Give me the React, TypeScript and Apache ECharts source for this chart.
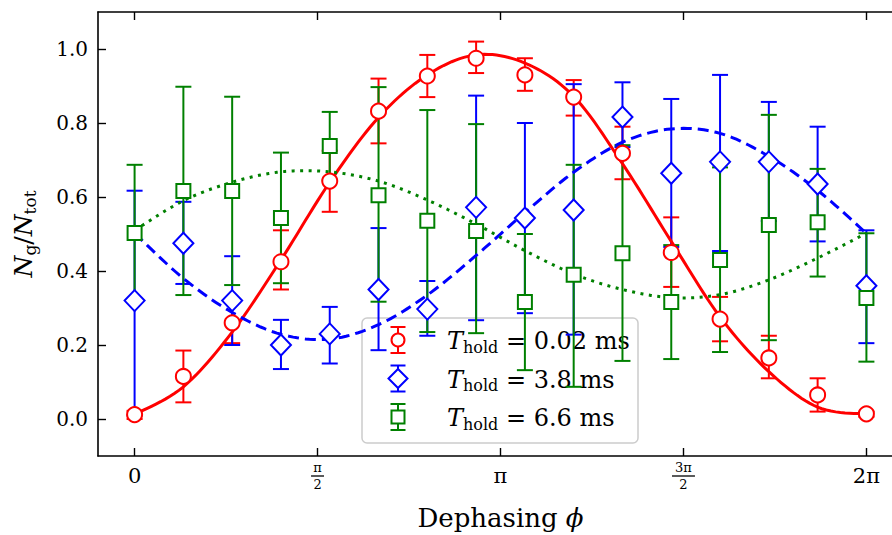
import React, { useEffect, useRef } from "react";
import * as echarts from "echarts";

// Dephasing positions: 16 equally spaced points from 0 to 2π
const N = 16;
const phi = Array.from({ length: N }, (_, i) => (i * 2 * Math.PI) / (N - 1));

// T_hold = 0.02 ms (red circles)
const redY = [0.012, 0.115, 0.26, 0.425, 0.643, 0.832, 0.927, 0.975, 0.93, 0.87, 0.718, 0.45, 0.27, 0.165, 0.065, 0.014];
const redLo = [0.0, 0.045, 0.205, 0.35, 0.56, 0.745, 0.87, 0.935, 0.887, 0.82, 0.648, 0.357, 0.21, 0.11, 0.02, 0.006];
const redHi = [0.022, 0.185, 0.315, 0.51, 0.725, 0.92, 0.984, 1.02, 0.975, 0.916, 0.79, 0.545, 0.33, 0.225, 0.11, 0.02];
const redFit = [0.012, 0.087, 0.235, 0.43, 0.64, 0.815, 0.93, 0.984, 0.962, 0.872, 0.69, 0.48, 0.276, 0.128, 0.032, 0.013];

// T_hold = 3.8 ms (blue diamonds)
const blueY = [0.32, 0.475, 0.32, 0.2, 0.23, 0.35, 0.297, 0.572, 0.543, 0.565, 0.816, 0.664, 0.695, 0.695, 0.635, 0.36];
const blueLo = [0.01, 0.365, 0.2, 0.135, 0.15, 0.186, 0.225, 0.267, 0.286, 0.228, 0.735, 0.465, 0.454, 0.535, 0.48, 0.205];
const blueHi = [0.617, 0.587, 0.44, 0.268, 0.303, 0.516, 0.373, 0.874, 0.8, 0.905, 0.91, 0.865, 0.93, 0.857, 0.79, 0.51];
const blueFit = [0.502, 0.38, 0.288, 0.229, 0.216, 0.255, 0.335, 0.442, 0.558, 0.667, 0.748, 0.784, 0.772, 0.71, 0.618, 0.502];

// T_hold = 6.6 ms (green squares)
const greenY = [0.503, 0.616, 0.616, 0.543, 0.738, 0.605, 0.536, 0.508, 0.316, 0.39, 0.448, 0.316, 0.43, 0.524, 0.532, 0.327];
const greenLo = [0.32, 0.335, 0.362, 0.367, 0.645, 0.317, 0.235, 0.232, 0.132, 0.087, 0.157, 0.162, 0.181, 0.213, 0.385, 0.155];
const greenHi = [0.687, 0.898, 0.871, 0.72, 0.83, 0.897, 0.835, 0.797, 0.5, 0.687, 0.74, 0.47, 0.68, 0.822, 0.676, 0.502];
const greenFit = [0.51, 0.59, 0.64, 0.668, 0.668, 0.643, 0.592, 0.527, 0.455, 0.392, 0.35, 0.328, 0.336, 0.376, 0.435, 0.502];

const holdTimes = ["0.02", "3.8", "6.6"];
const colors = ["#ff0000", "#0000ff", "#008000"];

const xTickValues = [0, Math.PI / 2, Math.PI, (3 * Math.PI) / 2, 2 * Math.PI];
const xTickLabels = ["{n|0}", "{f|π}\n{bar| }\n{f|2}", "{n|π}", "{f|3π}\n{bar2| }\n{f|2}", "{n|2π}"];
const yTickValues = [0, 0.2, 0.4, 0.6, 0.8, 1.0];
const yTickLabels = ["0.0", "0.2", "0.4", "0.6", "0.8", "1.0"];

const FONT = "DejaVu Serif";

function errorSeries(lo: number[], hi: number[], color: string, z: number) {
  return {
    type: "custom",
    z,
    silent: true,
    data: phi.map((x, i) => [x, lo[i], hi[i]]),
    encode: { x: 0, y: [1, 2] },
    renderItem: (params: any, api: any) => {
      const x = api.value(0);
      const p1 = api.coord([x, api.value(1)]);
      const p2 = api.coord([x, api.value(2)]);
      const hw = 8;
      const style = { stroke: color, lineWidth: 2 };
      return {
        type: "group",
        children: [
          { type: "line", shape: { x1: p1[0], y1: p1[1], x2: p2[0], y2: p2[1] }, style },
          { type: "line", shape: { x1: p1[0] - hw, y1: p1[1], x2: p1[0] + hw, y2: p1[1] }, style },
          { type: "line", shape: { x1: p2[0] - hw, y1: p2[1], x2: p2[0] + hw, y2: p2[1] }, style },
        ],
      };
    },
  };
}

function markerSeries(ys: number[], color: string, symbol: string, size: any, z: number) {
  return {
    type: "scatter",
    z,
    symbol,
    symbolSize: size,
    data: phi.map((x, i) => [x, ys[i]]),
    itemStyle: { color: "#ffffff", borderColor: color, borderWidth: 2, opacity: 1 },
  };
}

// Fit curves: Catmull-Rom spline through the read-off points, mapped with the axes' scales
function fitSeries(ys: number[], color: string, dash: any, z: number) {
  return {
    type: "custom",
    z,
    silent: true,
    data: [0],
    renderItem: (params: any, api: any) => {
      const pts = phi.map((x, i) => api.coord([x, ys[i]]));
      const out: number[][] = [];
      const steps = 12;
      for (let i = 0; i < pts.length - 1; i++) {
        const p0 = pts[Math.max(0, i - 1)];
        const p1 = pts[i];
        const p2 = pts[i + 1];
        const p3 = pts[Math.min(pts.length - 1, i + 2)];
        for (let s = 0; s < steps; s++) {
          const t = s / steps;
          const t2 = t * t;
          const t3 = t2 * t;
          const f = (a: number, b: number, c: number, d: number) =>
            0.5 * (2 * b + (-a + c) * t + (2 * a - 5 * b + 4 * c - d) * t2 + (-a + 3 * b - 3 * c + d) * t3);
          out.push([f(p0[0], p1[0], p2[0], p3[0]), f(p0[1], p1[1], p2[1], p3[1])]);
        }
      }
      out.push(pts[pts.length - 1]);
      return {
        type: "polyline",
        shape: { points: out },
        style: { stroke: color, lineWidth: 3, fill: "none", lineDash: dash, lineCap: "butt" },
      };
    },
  };
}

function legendGraphic() {
  const children: any[] = [
    {
      type: "rect",
      shape: { x: 362, y: 318, width: 276, height: 125, r: 5 },
      style: { fill: "rgba(255,255,255,0.8)", stroke: "#cccccc", lineWidth: 1.5 },
    },
  ];
  const cx = 398;
  holdTimes.forEach((t, k) => {
    const cy = 340 + 38.5 * k;
    const c = colors[k];
    const st = { stroke: c, lineWidth: 2 };
    children.push({ type: "line", shape: { x1: cx, y1: cy - 13, x2: cx, y2: cy + 13 }, style: st });
    children.push({ type: "line", shape: { x1: cx - 7.5, y1: cy - 13, x2: cx + 7.5, y2: cy - 13 }, style: st });
    children.push({ type: "line", shape: { x1: cx - 7.5, y1: cy + 13, x2: cx + 7.5, y2: cy + 13 }, style: st });
    const ms = { fill: "#ffffff", stroke: c, lineWidth: 2 };
    if (k === 0) children.push({ type: "circle", shape: { cx, cy, r: 6.5 }, style: ms });
    if (k === 1)
      children.push({
        type: "polygon",
        shape: { points: [[cx, cy - 9.5], [cx + 9.5, cy], [cx, cy + 9.5], [cx - 9.5, cy]] },
        style: ms,
      });
    if (k === 2) children.push({ type: "rect", shape: { x: cx - 6.5, y: cy - 6.5, width: 13, height: 13 }, style: ms });
    children.push({
      type: "text",
      x: 447,
      y: cy + 1,
      style: {
        text: `{i|T}{s|hold}{r| = ${t} ms}`,
        verticalAlign: "middle",
        align: "left",
        fill: "#000",
        rich: {
          i: { fontFamily: FONT, fontStyle: "italic", fontSize: 24, fill: "#000" },
          s: { fontFamily: FONT, fontSize: 16, padding: [12, 0, 0, 0], fill: "#000" },
          r: { fontFamily: FONT, fontSize: 24, fill: "#000" },
        },
      },
    });
  });
  return { type: "group", z: 100, children };
}

export default function App() {
  const ref = useRef<HTMLDivElement>(null);
  useEffect(() => {
    if (!ref.current) return;
    const chart = echarts.init(ref.current, undefined, { renderer: "svg" });
    const xMin = -0.1 * Math.PI;
    const xMax = 2.1 * Math.PI;
    const axisLineStyle = { color: "#000", width: 1.6 };
    const option: any = {
      animation: false,
      backgroundColor: "#ffffff",
      grid: { left: 98, right: -11, top: 12, bottom: 79, containLabel: false, outerBoundsMode: "none" },
      xAxis: [
        {
          type: "value",
          min: xMin,
          max: xMax,
          position: "bottom",
          splitLine: { show: false },
          axisLine: { show: true, onZero: false, lineStyle: axisLineStyle },
          axisTick: { show: true, inside: true, length: 8, customValues: xTickValues, lineStyle: { color: "#000", width: 1.4 } },
          axisLabel: {
            show: true,
            customValues: xTickValues,
            margin: 20,
            verticalAlign: "middle",
            formatter: (v: number) => {
              const idx = xTickValues.findIndex((t) => Math.abs(t - v) < 1e-6);
              return idx >= 0 ? xTickLabels[idx] : "";
            },
            rich: {
              n: { fontFamily: FONT, fontSize: 21, color: "#000", lineHeight: 22 },
              f: { fontFamily: FONT, fontSize: 13, color: "#000", lineHeight: 14, align: "center" },
              bar: { width: 13, height: 1.3, lineHeight: 3, backgroundColor: "#000", fontSize: 1, align: "center" },
              bar2: { width: 23, height: 1.3, lineHeight: 3, backgroundColor: "#000", fontSize: 1, align: "center" },
            },
          },
          name: "{t|Dephasing }{i|ϕ}",
          nameLocation: "middle",
          nameGap: 49,
          nameTextStyle: {
            rich: {
              t: { fontFamily: FONT, fontSize: 26, color: "#000" },
              i: { fontFamily: FONT, fontSize: 26, fontStyle: "italic", color: "#000" },
            },
          },
        },
        {
          type: "value",
          min: xMin,
          max: xMax,
          position: "top",
          splitLine: { show: false },
          axisLine: { show: true, onZero: false, lineStyle: axisLineStyle },
          axisTick: { show: true, inside: true, length: 8, customValues: xTickValues, lineStyle: { color: "#000", width: 1.4 } },
          axisLabel: { show: false },
        },
      ],
      yAxis: [
        {
          type: "value",
          min: -0.1,
          max: 1.1,
          position: "left",
          splitLine: { show: false },
          axisLine: { show: true, onZero: false, lineStyle: axisLineStyle },
          axisTick: { show: true, inside: true, length: 8, customValues: yTickValues, lineStyle: { color: "#000", width: 1.4 } },
          axisLabel: {
            show: true,
            customValues: yTickValues,
            margin: 10,
            fontFamily: FONT,
            fontSize: 20,
            color: "#000",
            formatter: (v: number) => {
              const idx = yTickValues.findIndex((t) => Math.abs(t - v) < 1e-6);
              return idx >= 0 ? yTickLabels[idx] : "";
            },
          },
          name: "{i|N}{s|g}{r|/}{i|N}{s|tot}",
          nameLocation: "middle",
          nameGap: 60,
          nameRotate: 90,
          nameTextStyle: {
            rich: {
              i: { fontFamily: FONT, fontSize: 25, fontStyle: "italic", color: "#000" },
              r: { fontFamily: FONT, fontSize: 25, color: "#000" },
              s: { fontFamily: FONT, fontSize: 17, color: "#000", padding: [12, 0, 0, 0] },
            },
          },
        },
        {
          type: "value",
          min: -0.1,
          max: 1.1,
          position: "right",
          splitLine: { show: false },
          axisLine: { show: true, onZero: false, lineStyle: axisLineStyle },
          axisTick: { show: true, inside: true, length: 8, customValues: yTickValues },
          axisLabel: { show: false },
        },
      ],
      series: [
        errorSeries(redLo, redHi, colors[0], 1),
        errorSeries(blueLo, blueHi, colors[1], 1),
        errorSeries(greenLo, greenHi, colors[2], 1),
        fitSeries(redFit, colors[0], null, 3),
        fitSeries(blueFit, colors[1], [11, 6], 3),
        fitSeries(greenFit, colors[2], [3, 5.5], 3),
        markerSeries(redY, colors[0], "circle", 15, 4),
        markerSeries(blueY, colors[1], "diamond", [20, 21], 4),
        markerSeries(greenY, colors[2], "rect", 14, 4),
      ],
      graphic: [legendGraphic()],
    };
    chart.setOption(option);
    return () => chart.dispose();
  }, []);
  return <div ref={ref} style={{ position: "fixed", left: 0, top: 0, width: 892, height: 535 }} />;
}
